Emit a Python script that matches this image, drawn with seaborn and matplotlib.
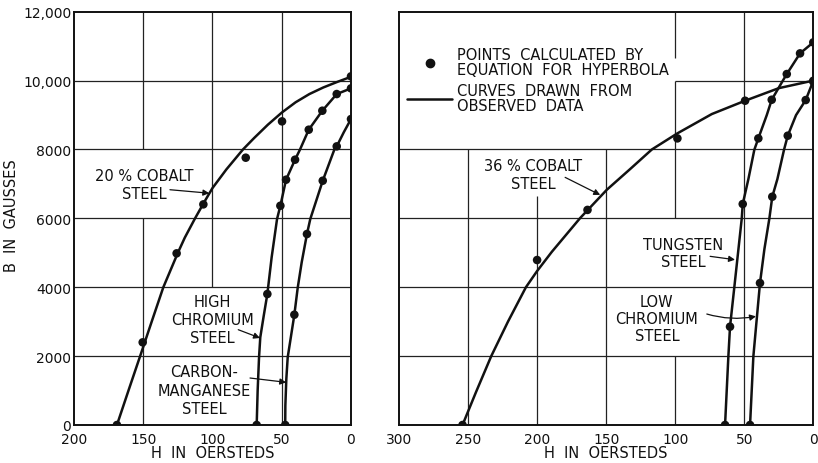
import matplotlib
matplotlib.use('Agg')
import matplotlib.pyplot as plt
import seaborn as sns
import pandas as pd
from matplotlib.lines import Line2D

# --- left panel: curves drawn from observed data (H in oersteds, B in gausses)
co20_curve_h = [169, 160, 152, 144, 135.5, 125, 120, 112.6, 106, 100, 90, 78, 70, 60, 50, 40, 30, 20, 10, 0]
co20_curve_b = [0, 1080, 2030, 2990, 4000, 5000, 5440, 6000, 6470, 6880, 7420, 8000, 8330, 8720, 9070, 9370, 9610, 9800, 9960, 10110]
co20_pts_h = [169, 150.4, 125.9, 106.6, 76, 49.8, 0]
co20_pts_b = [0, 2400, 4984, 6406, 7761, 8816, 10123]

hicr_curve_h = [68.1, 67.4, 66.4, 65.5, 63, 60.4, 57.3, 53.4, 51, 46.9, 40.4, 36.8, 30.5, 20.7, 10.3, 0]
hicr_curve_b = [0, 1000, 1965, 2546, 3174, 3803, 4867, 5980, 6366, 7122, 7703, 8000, 8574, 9125, 9609, 9774]
hicr_pts_h = [68.1, 60.4, 51, 46.9, 40.4, 30.5, 20.7, 10.3, 0]
hicr_pts_b = [0, 3803, 6366, 7122, 7703, 8574, 9125, 9609, 9774]

cm_curve_h = [47.5, 47.4, 46.7, 45.7, 40.9, 38.5, 35.6, 31.8, 29.4, 20.4, 12, 10.3, 5.2, 0]
cm_curve_b = [0, 561, 1335, 1965, 3202, 3977, 4723, 5545, 5980, 7093, 8000, 8090, 8500, 8883]
cm_pts_h = [47.5, 40.9, 31.8, 20.4, 10.3, 0]
cm_pts_b = [0, 3202, 5545, 7093, 8090, 8883]

# --- right panel
co36_curve_h = [254, 244.3, 233.2, 221.1, 208.1, 200, 189.3, 168.8, 149.5, 132.6, 116.9, 98.4, 73.5, 49.4, 25, 0]
co36_curve_b = [0, 950, 2000, 3000, 4000, 4470, 5030, 6010, 6831, 7432, 8000, 8468, 9028, 9415, 9780, 10000]
co36_pts_h = [254, 200, 163.5, 98.4, 49.4, 0]
co36_pts_b = [0, 4790, 6245, 8322, 9415, 9970]

w_curve_h = [63.9, 61.5, 60.3, 57.2, 54.2, 51.8, 51.1, 47, 42.7, 39.8, 33.7, 30.1, 22.1, 19.2, 9.6, 0]
w_curve_b = [0, 1994, 2854, 3997, 5109, 6000, 6416, 7141, 7992, 8322, 8997, 9444, 9995, 10190, 10790, 11110]
w_pts_h = [63.9, 60.3, 51.1, 39.8, 30.1, 19.2, 9.6, 0]
w_pts_b = [0, 2854, 6416, 8322, 9444, 10190, 10790, 11110]

locr_curve_h = [45.8, 43.4, 38.6, 35.4, 31.8, 29.7, 26, 21.2, 18.5, 12.5, 5.5, 0]
locr_curve_b = [0, 1994, 4122, 5109, 6000, 6628, 7141, 7992, 8400, 8997, 9435, 9995]
locr_pts_h = [45.8, 38.6, 29.7, 18.5, 5.5, 0]
locr_pts_b = [0, 4122, 6628, 8400, 9435, 9995]

y_ticks = [0, 2000, 4000, 6000, 8000, 10000, 12000]
y_tick_labels = ['0', '2000', '4000', '6000', '8000', '10,000', '12,000']
left_x_ticks = [200, 150, 100, 50, 0]
right_x_ticks = [300, 250, 200, 150, 100, 50, 0]

sns.set_theme(style='white')
plt.rcParams['font.family'] = ['DejaVu Sans']
INK = '#111111'

fig = plt.figure(figsize=(8.18, 4.64), dpi=100)
ax1 = fig.add_axes([74 / 818, 38 / 464, 277 / 818, 413.3 / 464])
ax2 = fig.add_axes([399 / 818, 38 / 464, 414.3 / 818, 413.3 / 464])


def draw_curve(ax, h, b, ph, pb):
    df = pd.DataFrame({'H': h, 'B': b})
    sns.lineplot(data=df, x='H', y='B', sort=False, estimator=None,
                 color=INK, lw=1.8, ax=ax, zorder=3)
    sns.scatterplot(x=ph, y=pb, color=INK, s=38, edgecolor='none', ax=ax, zorder=4)


draw_curve(ax1, co20_curve_h, co20_curve_b, co20_pts_h, co20_pts_b)
draw_curve(ax1, hicr_curve_h, hicr_curve_b, hicr_pts_h, hicr_pts_b)
draw_curve(ax1, cm_curve_h, cm_curve_b, cm_pts_h, cm_pts_b)
draw_curve(ax2, co36_curve_h, co36_curve_b, co36_pts_h, co36_pts_b)
draw_curve(ax2, w_curve_h, w_curve_b, w_pts_h, w_pts_b)
draw_curve(ax2, locr_curve_h, locr_curve_b, locr_pts_h, locr_pts_b)

# grid segments (broken where the labels sit)
grid_kw = dict(color='#222222', lw=0.9, zorder=1)
for b in [2000, 4000, 6000, 8000, 10000]:
    ax1.hlines(b, 200, 0, **grid_kw)
ax1.vlines(150, 0, 6000, **grid_kw)
ax1.vlines(150, 8000, 12000, **grid_kw)
ax1.vlines(100, 4000, 12000, **grid_kw)
ax1.vlines(50, 0, 12000, **grid_kw)

for b in [2000, 4000, 6000, 8000]:
    ax2.hlines(b, 300, 0, **grid_kw)
ax2.hlines(10000, 100, 0, **grid_kw)
ax2.vlines(250, 0, 8000, **grid_kw)
ax2.vlines(200, 0, 6650, **grid_kw)
ax2.vlines(150, 0, 8000, **grid_kw)
ax2.vlines(100, 0, 2000, **grid_kw)
ax2.vlines(100, 6000, 10000, **grid_kw)
ax2.vlines(100, 10650, 12000, **grid_kw)
ax2.vlines(50, 0, 12000, **grid_kw)

for ax, xmax, xt in [(ax1, 200, left_x_ticks), (ax2, 300, right_x_ticks)]:
    ax.set_xlim(xmax, 0)
    ax.set_ylim(0, 12000)
    ax.set_xticks(xt)
    ax.set_xticklabels([str(v) for v in xt])
    ax.set_yticks(y_ticks)
    ax.grid(False)
    for s in ax.spines.values():
        s.set_color(INK)
        s.set_linewidth(1.4)
    ax.tick_params(axis='both', direction='in', length=4, width=0.9, color=INK,
                   labelsize=10, labelcolor=INK)
    ax.tick_params(axis='x', pad=5)
    ax.set_xlabel('H  IN  OERSTEDS', fontsize=10.5, color=INK, labelpad=-1)
    ax.set_ylabel('')

ax1.set_yticklabels(y_tick_labels)
ax1.tick_params(axis='y', pad=2)
ax2.tick_params(axis='y', length=6, labelleft=False)
ax1.set_ylabel('B  IN  GAUSSES', fontsize=10.5, color=INK)
ax1.yaxis.set_label_coords(-0.2, 0.51)

# labels with arrows
arr_kw = dict(arrowstyle='-|>', color=INK, lw=0.9, mutation_scale=9, shrinkA=0, shrinkB=0)


def label(ax, x, y, s, ls):
    ax.text(x, y, s, fontsize=10.5, color=INK, ha='center', va='center',
            linespacing=ls, zorder=5)


label(ax1, 149, 6976, '20 % COBALT\nSTEEL', 1.22)
ax1.annotate('', xy=(102.3, 6730), xytext=(130.7, 6831), arrowprops=arr_kw)
label(ax1, 100, 3063, 'HIGH\nCHROMIUM\nSTEEL', 1.28)
ax1.annotate('', xy=(65.7, 2526), xytext=(81.4, 2767), arrowprops=arr_kw)
label(ax1, 106, 1016, 'CARBON-\nMANGANESE\nSTEEL', 1.28)
ax1.annotate('', xy=(46.8, 1239), xytext=(72.9, 1364), arrowprops=arr_kw)

label(ax2, 203, 7263, '36 % COBALT\nSTEEL', 1.24)
ax2.annotate('', xy=(154.3, 6680), xytext=(179.7, 7190), arrowprops=arr_kw)
label(ax2, 94, 4984, 'TUNGSTEN\nSTEEL', 1.15)
ax2.annotate('', xy=(56.7, 4799), xytext=(74.7, 4897), arrowprops=arr_kw)
label(ax2, 113.3, 3095, 'LOW\nCHROMIUM\nSTEEL', 1.17)
ax2.annotate('', xy=(41.5, 3155), xytext=(77.1, 3222),
             arrowprops=dict(arr_kw, connectionstyle='arc3,rad=0.12'))

handles = [Line2D([], [], marker='o', ls='none', color=INK, markersize=6),
           Line2D([], [], color=INK, lw=1.8)]
labels = ['POINTS  CALCULATED  BY\nEQUATION  FOR  HYPERBOLA', 'CURVES  DRAWN  FROM\nOBSERVED  DATA']
leg = ax2.legend(handles, labels, loc='upper left', bbox_to_anchor=(0.02, 0.915), frameon=False,
                 fontsize=10.5, handlelength=3.1, handletextpad=0.3, labelspacing=0.35,
                 borderpad=0, borderaxespad=0)
for t in leg.get_texts():
    t.set_linespacing(1.05)
    t.set_color(INK)

fig.savefig('out.png', dpi=100, facecolor='white')
